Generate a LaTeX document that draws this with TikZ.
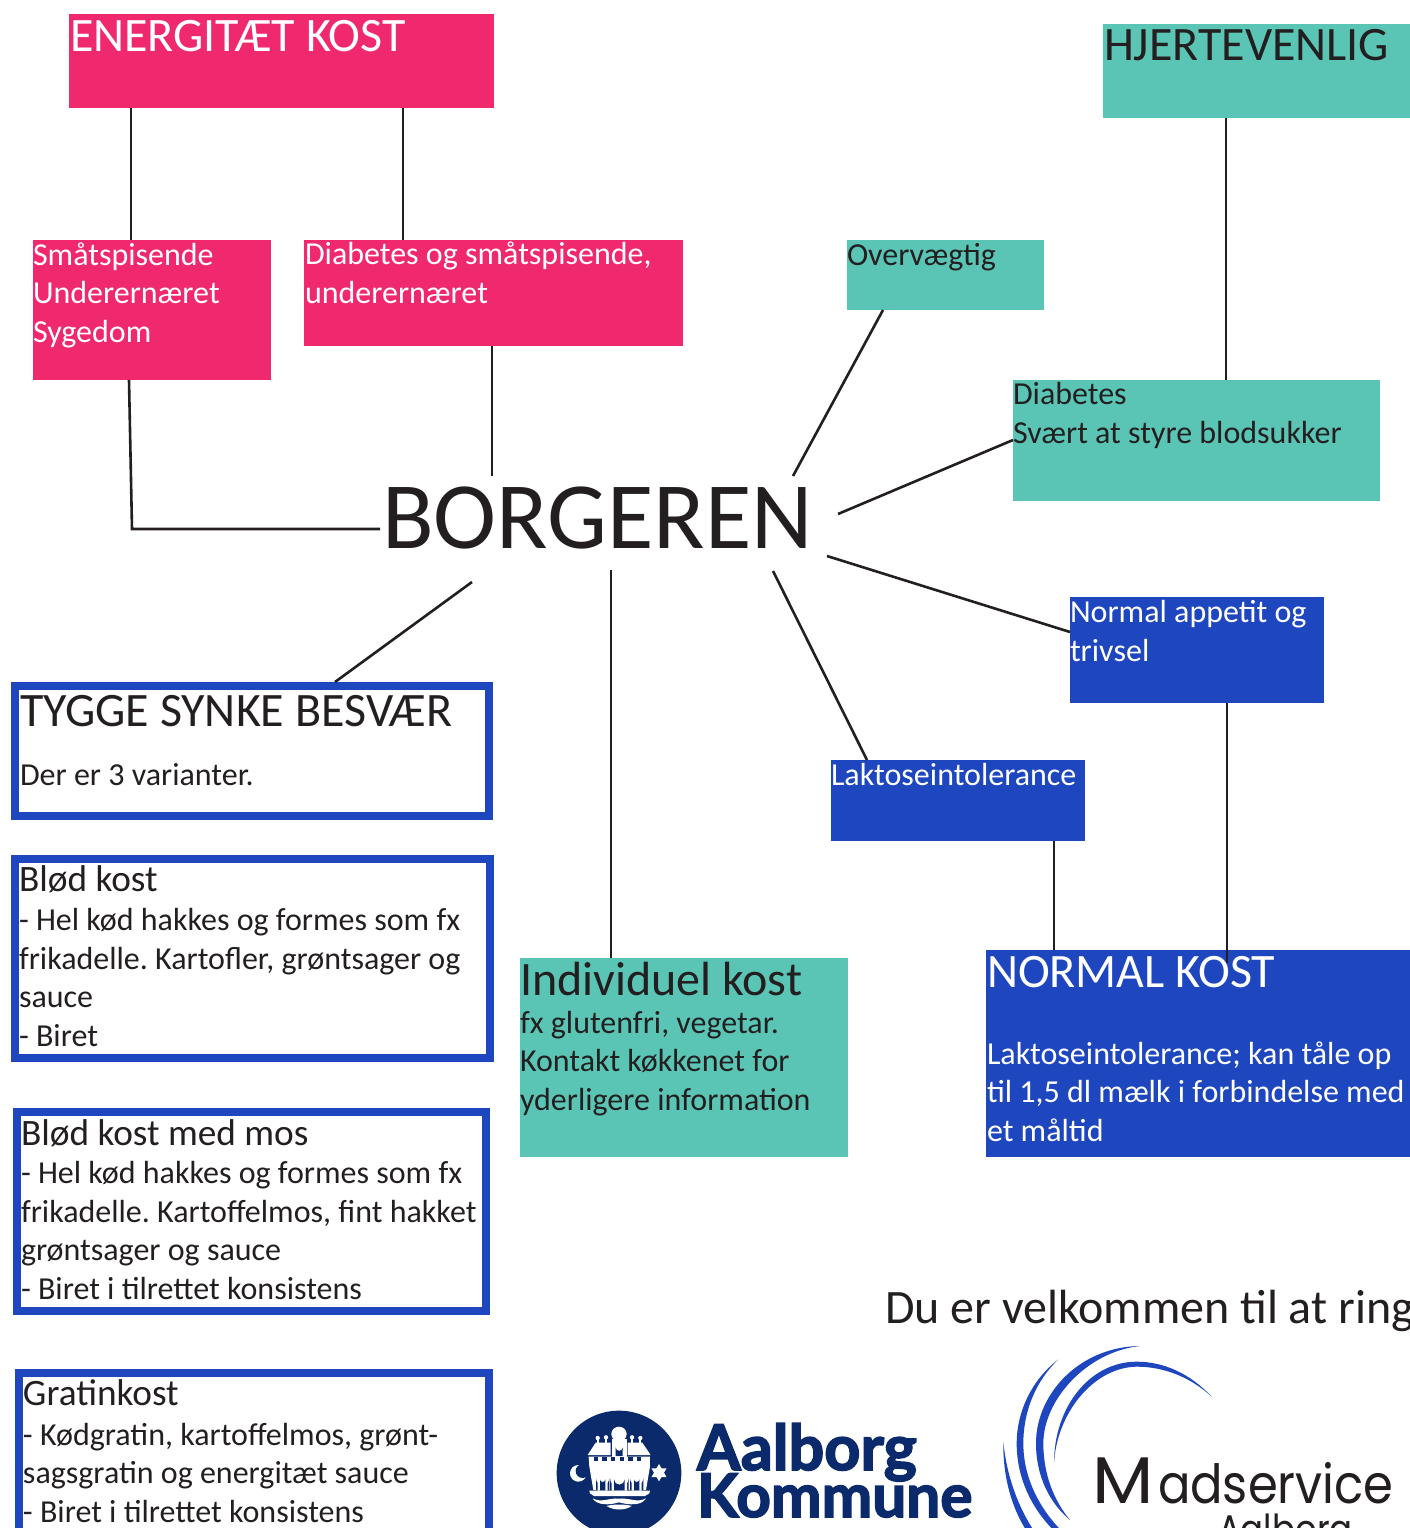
\documentclass[tikz,border=0pt]{standalone}
\usepackage{fontspec}
\usepackage{graphicx}
\setmainfont{Carlito}
\newfontfamily\logofont[FakeBold=2.5]{Lato}
\newfontfamily\madfont{Poppins}
\AtBeginDocument{\frenchspacing}
\definecolor{pinkc}{HTML}{F0286E}
\definecolor{tealc}{HTML}{5BC5B5}
\definecolor{bluec}{HTML}{1E46BE}
\definecolor{inkc}{HTML}{231F20}
\definecolor{navyc}{HTML}{0A2A6B}
\tikzset{
  boxn/.style={rectangle,inner sep=0pt,outer sep=0pt,anchor=north west},
  pinkbox/.style={boxn,fill=pinkc},
  tealbox/.style={boxn,fill=tealc},
  bluebox/.style={boxn,fill=bluec},
  framebox/.style={boxn,draw=bluec,line width=8pt,fill=white},
  ghost/.style={boxn},
  conn/.style={draw=inkc,line width=2.6pt},
  txt/.style={anchor=base west,inner sep=0pt,outer sep=0pt,align=left,text=inkc},
  wtxt/.style={txt,text=white},
  body/.style={font=\fontsize{32}{38.4}\selectfont},
  head/.style={font=\fontsize{48}{50}\selectfont},
  mid/.style={font=\fontsize{37.3}{40}\selectfont},
  logot/.style={anchor=base west,inner sep=0pt,outer sep=0pt,text=navyc},
  madt/.style={anchor=base west,inner sep=0pt,outer sep=0pt,text=inkc},
}
\newcommand{\bx}[6]{\node[#6,minimum width={(#4-#2)*1pt},minimum height={(#5-#3)*1pt}] (#1) at (#2,#3) {};}
\newcommand{\pp}[3]{([shift={(#2,#3)}]#1.north west)}
\begin{document}
\begin{tikzpicture}[x=1pt,y=-1pt]
\useasboundingbox (0,0) rectangle (1410,1528);
\clip (0,0) rectangle (1410,1528);
\fill[white] (0,0) rectangle (1410,1528);
% boxes
\bx{energi}{69}{14}{494}{108}{pinkbox}
\bx{hjerte}{1103}{24}{1410}{118}{tealbox}
\bx{smaa}{33}{240}{271}{380}{pinkbox}
\bx{diabpink}{304}{240}{683}{346}{pinkbox}
\bx{overv}{847}{240}{1044}{310}{tealbox}
\bx{diabteal}{1013}{380}{1380}{501}{tealbox}
\bx{appetit}{1070}{597}{1324}{703}{bluebox}
\bx{laktose}{831}{760}{1085}{841}{bluebox}
\bx{normal}{986}{950}{1410}{1157}{bluebox}
\bx{indiv}{520}{958}{848}{1157}{tealbox}
\bx{tygge}{15}{686}{489}{816}{framebox}
\bx{blod}{15}{859}{490}{1058}{framebox}
\bx{mos}{17}{1112}{486}{1311}{framebox}
\bx{gratin}{19}{1373}{489}{1560}{framebox}
\bx{borgeren}{380}{476}{838}{582}{ghost}
% connectors
\draw[conn] \pp{energi}{62}{94} -- \pp{smaa}{98}{0};
\draw[conn] \pp{energi}{334}{94} -- \pp{diabpink}{99}{0};
\draw[conn] \pp{diabpink}{188}{106} -- \pp{borgeren}{112}{0};
\draw[conn] \pp{smaa}{96}{140} -- \pp{borgeren}{-248}{53} -- \pp{borgeren}{0}{53};
\draw[conn] \pp{overv}{36}{70} -- \pp{borgeren}{413}{0};
\draw[conn] \pp{diabteal}{0}{60} -- \pp{borgeren}{458}{38};
\draw[conn] \pp{borgeren}{447}{80} -- \pp{appetit}{0}{35};
\draw[conn] \pp{borgeren}{393}{95} -- \pp{laktose}{36}{0};
\draw[conn] \pp{appetit}{157}{106} -- \pp{normal}{241}{13};
\draw[conn] \pp{laktose}{223}{81} -- \pp{normal}{68}{0};
\draw[conn] \pp{hjerte}{123}{94} -- \pp{diabteal}{213}{0};
\draw[conn] \pp{borgeren}{231}{94} -- \pp{indiv}{91}{0};
\draw[conn] \pp{borgeren}{92}{106} -- \pp{tygge}{320}{-4};
% texts (node base = baseline of the LAST line)
\node[wtxt,head] (tenergi) at (70,52) {ENERGITÆT KOST};
\node[txt,head] (thjerte) at (1104,61) {HJERTEVENLIG};
\node[wtxt,body] (tsmaa) at (33,342) {Småtspisende\\Underernæret\\Sygedom};
\node[wtxt,body] (tdiabp) at (305,303) {Diabetes og småtspisende,\\underernæret};
\node[txt,body] (tover) at (847,265) {Overvægtig};
\node[txt,body] (tdiabt) at (1013,443) {Diabetes\\Svært at styre blodsukker};
\node[txt,font=\fontsize{95}{100}\selectfont] (tborg) at (382,548) {BORGEREN};
\node[wtxt,body] (tapp) at (1070,661) {Normal appetit og\\trivsel};
\node[wtxt,body] (tlak) at (831,785) {Laktoseintolerance};
\node[wtxt,head] (tnorm) at (987,987) {NORMAL KOST};
\node[wtxt,body] (tnormb) at (987,1141) {Laktoseintolerance; kan tåle op\\til 1,5 dl mælk i forbindelse med\\et måltid};
\node[txt,head] (tind) at (520,995) {Individuel kost};
\node[txt,body] (tindb) at (520,1110) {fx glutenfri, vegetar.\\Kontakt køkkenet for\\yderligere information};
\node[txt,head] (ttyg) at (20,726) {TYGGE SYNKE BESVÆR};
\node[txt,body] (ttygb) at (20,785) {Der er 3 varianter.};
\node[txt,mid] (tblod) at (19,891) {Blød kost};
\node[txt,body] (tblodb) at (19,1046) {- Hel kød hakkes og formes som fx\\frikadelle. Kartofler, grøntsager og\\sauce\\- Biret};
\node[txt,mid] (tmos) at (21,1145) {Blød kost med mos};
\node[txt,body] (tmosb) at (21,1299) {- Hel kød hakkes og formes som fx\\frikadelle. Kartoffelmos, fint hakket\\grøntsager og sauce\\- Biret i tilrettet konsistens};
\node[txt,mid] (tgra) at (23,1405) {Gratinkost};
\node[txt,body] (tgrab) at (23,1522) {- Kødgratin, kartoffelmos, grønt-\\sagsgratin og energitæt sauce\\- Biret i tilrettet konsistens};
\node[txt,head] (tring) at (885,1323) {Du er velkommen til at ring};
% Aalborg emblem (coordinates from 3x crop at 560,1410)
\begin{scope}[shift={(560,1410)},x=0.3333pt,y=-0.3333pt]
\fill[navyc] (177,189) circle (187);
\fill[white] (177,72) ellipse (23 and 22);
\fill[white] (173,50) rectangle (181,62);
\fill[white] (155,88) rectangle (200,142);
\fill[navyc] (167,138) -- (167,112) arc (180:0:10.5) -- (188,138) -- cycle;
\fill[white] (83,135) -- (107,98) -- (152,98) -- (152,135) -- cycle;
\fill[white] (203,135) -- (203,98) -- (247,98) -- (272,135) -- cycle;
\foreach \cx/\cy in {113/84,138/82,216/82,241/84}{\fill[white] (\cx,\cy) circle (6.5); \fill[white] (\cx-3,\cy) rectangle (\cx+3,100);}
\fill[white] (86,140) -- (270,140) -- (270,170) -- (258,240) -- (100,240) -- (88,170) -- cycle;
\foreach \cx in {101,127,153,179,205,231}{\fill[navyc] (\cx,140) rectangle (\cx+13,152);}
\foreach \ax/\aw/\ay in {108/40/205,150/56/205,210/40/205}{
  \fill[navyc] (\ax,242) -- (\ax,\ay) arc (180:0:\aw/2) -- (\ax+\aw,242) -- cycle;
  \fill[white] (\ax+5,242) -- (\ax+5,\ay) arc (180:0:\aw/2-5) -- (\ax+\aw-5,242) -- cycle;
  \fill[navyc] (\ax+12,242) -- (\ax+12,\ay+3) arc (180:0:\aw/2-12) -- (\ax+\aw-12,242) -- cycle;}
\fill[white] (88,242) -- (270,242) -- (268,250) -- (255,258) -- (102,258) -- (90,250) -- cycle;
\fill[white] (98,265) .. controls (125,280) and (150,262) .. (177,266) .. controls (205,262) and (232,280) .. (258,265) .. controls (245,288) and (205,285) .. (177,277) .. controls (150,285) and (112,288) .. (98,265) -- cycle;
\fill[white] (140,288) .. controls (160,282) and (195,282) .. (215,288) .. controls (195,302) and (160,302) .. (140,288) -- cycle;
\fill[white] (55,190) circle (25);
\fill[navyc] (68,183) circle (21);
\fill[white] (297,188) +(90:26) -- +(210:26) -- +(330:26) -- cycle;
\fill[white] (297,188) +(270:26) -- +(30:26) -- +(150:26) -- cycle;
\end{scope}
\node[logot,font=\fontsize{63}{63}\selectfont\logofont\bfseries] (taal1) at (697,1470) {Aalborg};
\node[logot,font=\fontsize{60.4}{61}\selectfont\logofont\bfseries] (tkom) at (697,1517) {Kommune};
% Madservice swooshes
\begin{scope}[shift={(990,1330)},x=0.3333pt,y=-0.3333pt]
\fill[bluec] (450,48) .. controls (270,50) and (138,190) .. (138,340) .. controls (138,440) and (180,520) .. (240,570) .. controls (190,510) and (160,430) .. (160,340) .. controls (160,210) and (290,65) .. (450,48) -- cycle;
\fill[bluec] (665,200) .. controls (600,130) and (520,95) .. (440,95) .. controls (300,95) and (192,230) .. (192,400) .. controls (200,250) and (310,112) .. (440,110) .. controls (520,110) and (600,140) .. (665,200) -- cycle;
\fill[bluec] (205,88) .. controls (125,150) and (80,245) .. (80,340) .. controls (80,450) and (130,540) .. (190,600) -- (212,600) .. controls (145,530) and (100,440) .. (100,340) .. controls (100,240) and (140,150) .. (205,88) -- cycle;
\fill[bluec] (40,335) .. controls (38,450) and (70,540) .. (108,600) -- (130,600) .. controls (85,530) and (50,440) .. (40,335) -- cycle;
\end{scope}
\node[madt,font=\fontsize{66}{66}\selectfont\madfont] (tm) at (1092,1503) {\scalebox{1.08}[1]{M}};
\node[madt,font=\fontsize{54}{54}\selectfont\madfont] (tmad) at (1158,1503) {\scalebox{0.89}[1]{adservice}};
\node[madt,font=\fontsize{40}{40}\selectfont\madfont] (taal) at (1218,1543) {\scalebox{0.85}[1]{Aalborg}};
\end{tikzpicture}
\end{document}
